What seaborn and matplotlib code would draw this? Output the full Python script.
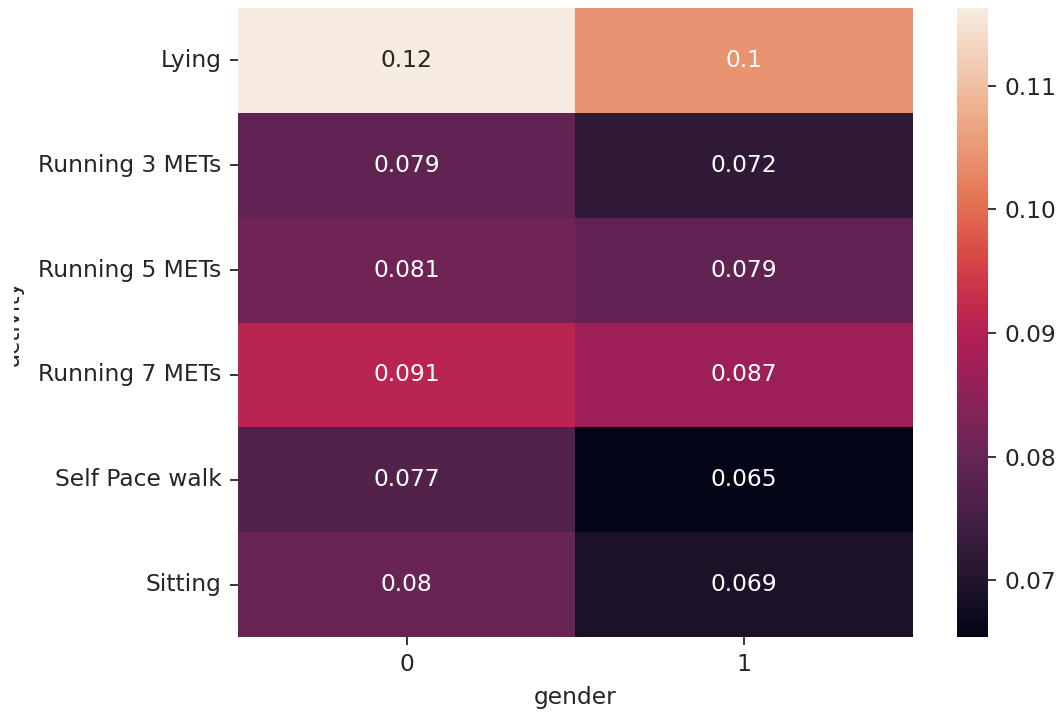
import matplotlib
matplotlib.use("Agg")
import matplotlib.pyplot as plt
from matplotlib.colors import ListedColormap
from matplotlib.transforms import Bbox, TransformedBbox
import numpy as np
import pandas as pd
import seaborn as sns

activities = ["Lying", "Running 3 METs", "Running 5 METs", "Running 7 METs",
              "Self Pace walk", "Sitting"]
genders = [0, 1]
gender_0 = [0.1163, 0.0790, 0.0810, 0.0910, 0.0770, 0.0800]
gender_1 = [0.1045, 0.0720, 0.0790, 0.0870, 0.0654, 0.0690]

table = pd.DataFrame({genders[0]: gender_0, genders[1]: gender_1}, index=activities)
table.index.name = "activity"
table.columns.name = "gender"

# slightly muted rocket palette
base = np.array(sns.color_palette("rocket", 256))
lum = (base @ np.array([0.299, 0.587, 0.114]))[:, None]
muted = ListedColormap(np.clip(lum + 0.85 * (base - lum), 0, 1))

fs = 16.8
plt.rcParams.update({
    "font.size": fs,
    "xtick.major.size": 5.9, "ytick.major.size": 5.9,
    "xtick.major.width": 1.3, "ytick.major.width": 1.3,
    "xtick.major.pad": 5.9, "ytick.major.pad": 5.9,
    "axes.labelpad": 6.7,
    "text.color": "#262626", "xtick.color": "#262626", "ytick.color": "#262626",
    "axes.labelcolor": "#262626",
})
fig = plt.figure(figsize=(10.61, 7.17), dpi=100)
ax = fig.add_axes([0.2243, 0.1116, 0.6362, 0.8772])
cax = fig.add_axes([0.902, 0.1116, 0.029, 0.8772])

sns.heatmap(table, annot=True, ax=ax, cbar_ax=cax, cmap=muted,
            annot_kws={"fontsize": fs})
ax.tick_params(axis="y", rotation=0)
ax.tick_params(axis="x", rotation=0)
ax.yaxis.set_label_coords(-0.317, 0.5)

# the y label runs off the left edge of the canvas
ylab = ax.yaxis.label
ylab.set_clip_box(TransformedBbox(Bbox([[13.5 / 1061, 0], [1, 1]]), fig.transFigure))
ylab.set_clip_on(True)

fig.savefig("out.png", dpi=100)
